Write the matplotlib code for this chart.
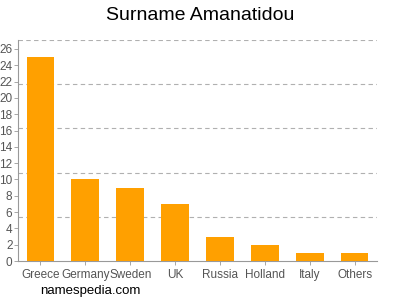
import matplotlib
matplotlib.use("Agg")
import matplotlib.pyplot as plt

plt.rcParams["font.family"] = ["Liberation Sans", "DejaVu Sans"]

countries = ["Greece", "Germany", "Sweden", "UK", "Russia", "Holland", "Italy", "Others"]
counts = [25, 10, 9, 7, 3, 2, 1, 1]
yticks = list(range(0, 27, 2))
ymax = 27.1

fig = plt.figure(figsize=(4, 3), dpi=100)
ax = fig.add_axes([0.045, 0.13, 0.8975, 0.7367])

x = list(range(len(countries)))
ax.bar(x, counts, width=0.62, color="#ffa000", edgecolor="none", zorder=3)

ax.set_xlim(-0.5, len(countries) - 0.5)
ax.set_ylim(0, ymax)
ax.set_yticks(yticks)
ax.set_xticks(x)
ax.set_xticklabels(countries)

# dashed grid at five equal steps of the axis height
for k in range(1, 6):
    ax.axhline(ymax * k / 5, color="#b0b0b0", linestyle=(0, (4, 3)), linewidth=0.8, zorder=1)

for s in ["top", "right"]:
    ax.spines[s].set_visible(False)
for s in ["left", "bottom"]:
    ax.spines[s].set_color("#999999")
    ax.spines[s].set_linewidth(0.8)

ax.tick_params(axis="both", colors="#999999", labelcolor="#555555", labelsize=8.5, length=3, width=0.6)
ax.tick_params(axis="y", pad=1)
ax.tick_params(axis="x", pad=3)

fig.text(0.5, 0.95, "Surname Amanatidou", ha="center", va="center", fontsize=14)
fig.text(0.1, 0.03, "namespedia.com", ha="left", va="center", fontsize=9.5)

fig.savefig("out.png", dpi=100)
